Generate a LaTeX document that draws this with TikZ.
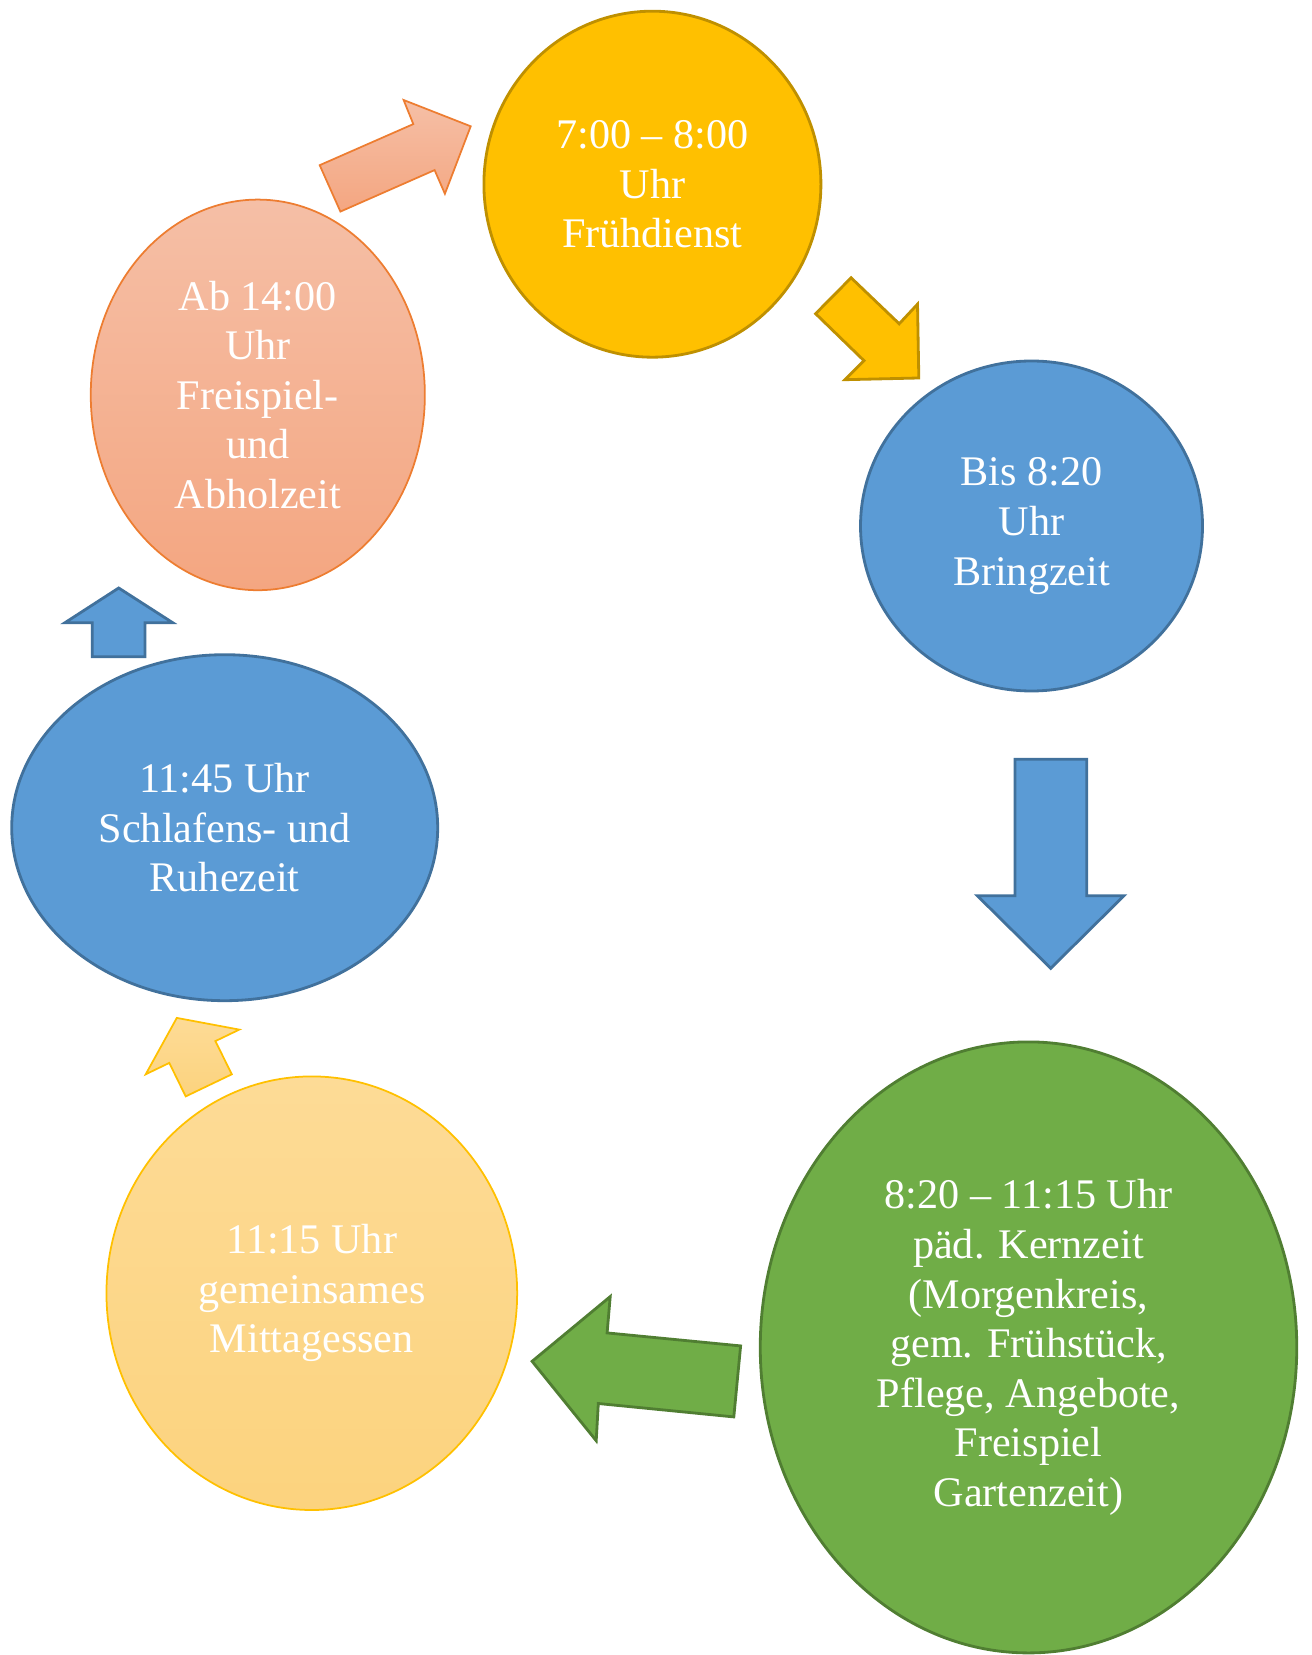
\documentclass[tikz,border=0pt]{standalone}
\usepackage{fontspec}
\setmainfont{Liberation Serif}
\usetikzlibrary{shapes.geometric}

\definecolor{goldfill}{HTML}{FFC000}
\definecolor{golddraw}{HTML}{BF9000}
\definecolor{bluefill}{HTML}{5B9BD5}
\definecolor{bluedraw}{HTML}{41719C}
\definecolor{greenfill}{HTML}{70AD47}
\definecolor{greendraw}{HTML}{507E32}
\definecolor{paletop}{HTML}{FDDB96}
\definecolor{palebot}{HTML}{FCD37E}
\definecolor{salmontop}{HTML}{F5BFA6}
\definecolor{salmonbot}{HTML}{F4A681}
\definecolor{salmondraw}{HTML}{ED7D31}

\tikzset{
  stage/.style={ellipse, inner sep=0pt, align=center, text=white, line width=0.8pt,
    font=\fontsize{12}{14.1}\selectfont},
  blockarrow/.style={line width=0.8pt, line join=miter}
}

\begin{document}
\begin{tikzpicture}[y=-1cm]

\useasboundingbox (0,0) rectangle (13.11,16.55);

% Stages
\node [stage, fill=goldfill, draw=golddraw, minimum width=3.37cm, minimum height=3.46cm] (fruehdienst) at (6.524,1.842) {7:00 – 8:00\\Uhr\\Frühdienst};
\node [stage, fill=bluefill, draw=bluedraw, minimum width=3.42cm, minimum height=3.30cm] (bringzeit) at (10.315,5.26) {Bis 8:20\\Uhr\\Bringzeit};
\node [stage, fill=greenfill, draw=greendraw, minimum width=5.365cm, minimum height=6.11cm] (kernzeit) at (10.285,13.474) {8:20 – 11:15 Uhr\\päd. Kernzeit\\(Morgenkreis,\\gem. Frühstück,\\Pflege, Angebote,\\Freispiel\\Gartenzeit)};
\node [stage, top color=paletop, bottom color=palebot, draw=goldfill, line width=0.5pt, minimum width=4.107cm, minimum height=4.336cm] (mittagessen) at (3.118,12.932) {11:15 Uhr\\gemeinsames\\Mittagessen};
\node [stage, fill=bluefill, draw=bluedraw, minimum width=4.26cm, minimum height=3.46cm] (ruhezeit) at (2.247,8.277) {11:45 Uhr\\Schlafens- und\\Ruhezeit};
\node [stage, top color=salmontop, bottom color=salmonbot, draw=salmondraw, line width=0.5pt, minimum width=3.341cm, minimum height=3.906cm] (abholzeit) at (2.578,3.949) {Ab 14:00\\Uhr\\Freispiel-\\und\\Abholzeit};

% Arrows
\draw [blockarrow, top color=salmontop, bottom color=salmonbot, draw=salmondraw, line width=0.5pt] (3.197,1.652) -- (4.133,1.241) -- (4.036,1.000) -- (4.707,1.263) -- (4.449,1.938) -- (4.346,1.701) -- (3.404,2.116) -- cycle;
\draw [blockarrow, fill=goldfill, draw=golddraw] (8.156,3.137) -- (8.511,2.778) -- (8.992,3.238) -- (9.175,3.042) -- (9.188,3.780) -- (8.450,3.797) -- (8.640,3.607) -- cycle;
\draw [blockarrow, fill=bluefill, draw=bluedraw] (10.15,7.593) -- (10.867,7.593) -- (10.867,8.957) -- (11.24,8.957) -- (10.507,9.683) -- (9.773,8.957) -- (10.15,8.957) -- cycle;
\draw [blockarrow, fill=greenfill, draw=greendraw] (5.321,13.613) -- (6.102,12.966) -- (6.071,13.329) -- (7.406,13.459) -- (7.338,14.169) -- (5.983,14.035) -- (5.962,14.407) -- cycle;
\draw [blockarrow, top color=paletop, bottom color=palebot, draw=goldfill, line width=0.5pt] (1.768,10.179) -- (2.393,10.296) -- (2.154,10.411) -- (2.318,10.743) -- (1.857,10.964) -- (1.693,10.629) -- (1.457,10.743) -- cycle;
\draw [blockarrow, fill=bluefill, draw=bluedraw] (0.923,6.567) -- (0.923,6.227) -- (0.65,6.227) -- (1.187,5.88) -- (1.727,6.227) -- (1.45,6.227) -- (1.45,6.567) -- cycle;

\end{tikzpicture}
\end{document}
